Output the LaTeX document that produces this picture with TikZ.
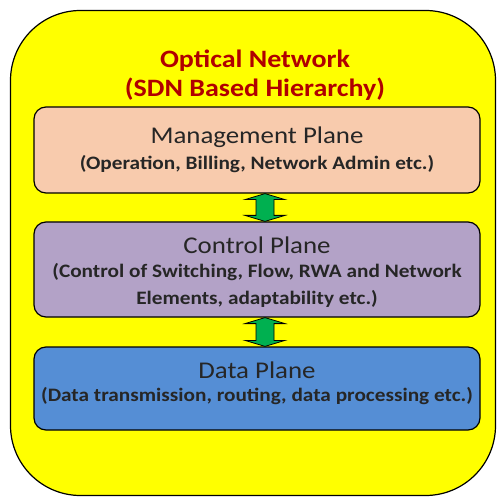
\documentclass[tikz,border=0pt]{standalone}
\usepackage{fontspec}
\setmainfont{Carlito}[FakeStretch=1.12]
\usetikzlibrary{calc}
\definecolor{outerfill}{HTML}{FFFF00}
\definecolor{titlered}{HTML}{B00000}
\definecolor{mgmtfill}{HTML}{F8CBAD}
\definecolor{ctrlfill}{HTML}{B3A2C7}
\definecolor{datafill}{HTML}{558ED5}
\definecolor{arrowgreen}{HTML}{00B050}
\tikzset{
  plane/.style={draw=black, line width=1.2pt, rounded corners=12pt,
    minimum width=446pt, inner sep=0pt},
  head/.style={font=\fontsize{24}{24}\selectfont, text=black!85},
  sub/.style={font=\fontsize{19}{19}\bfseries\selectfont, text=black!85},
  ttl/.style={font=\fontsize{25}{25}\bfseries\selectfont, text=titlered},
  updown/.style={draw=black, line width=0.8pt, fill=arrowgreen}
}
\begin{document}
\begin{tikzpicture}[x=1pt, y=-1pt]
\useasboundingbox (0,0) rectangle (499,502);
% outer frame
\node[draw=black, line width=1.2pt, fill=outerfill, rounded corners=70pt,
  minimum width=485pt, minimum height=485pt, inner sep=0pt] (frame) at (253,253) {};
% title
\node[ttl] (t1) at (255,61) {Optical Network};
\node[ttl] (t2) at (255,89) {(SDN Based Hierarchy)};
% planes
\node[plane, fill=mgmtfill, minimum height=86pt] (mgmt) at (257,150) {};
\node[plane, fill=ctrlfill, minimum height=95pt] (ctrl) at (257,269.5) {};
\node[plane, fill=datafill, minimum height=83pt] (data) at (257,388.5) {};
% plane texts
\node[head] (m1) at (257,137) {Management Plane};
\node[sub] (m2) at (257,164) {(Operation, Billing, Network Admin etc.)};
\node[head] (c1) at (257,245) {Control Plane};
\node[sub] (c2) at (257,272) {(Control of Switching, Flow, RWA and Network};
\node[sub] (c3) at (257,299) {Elements, adaptability etc.)};
\node[head] (d1) at (257,370) {Data Plane};
\node[sub] (d2) at (257,396) {(Data transmission, routing, data processing etc.)};
% double arrows between planes
\foreach \a/\b in {mgmt/ctrl, ctrl/data}{
  \draw[updown]
    ($(\a.south)+(8,0)$) -- ($(\a.south)+(28,6)$) -- ($(\a.south)+(17,6)$)
    -- ($(\b.north)+(17,-6)$) -- ($(\b.north)+(28,-6)$) -- ($(\b.north)+(8,0)$)
    -- ($(\b.north)+(-12,-6)$) -- ($(\b.north)+(-1,-6)$)
    -- ($(\a.south)+(-1,6)$) -- ($(\a.south)+(-12,6)$) -- cycle;
}
\end{tikzpicture}
\end{document}
